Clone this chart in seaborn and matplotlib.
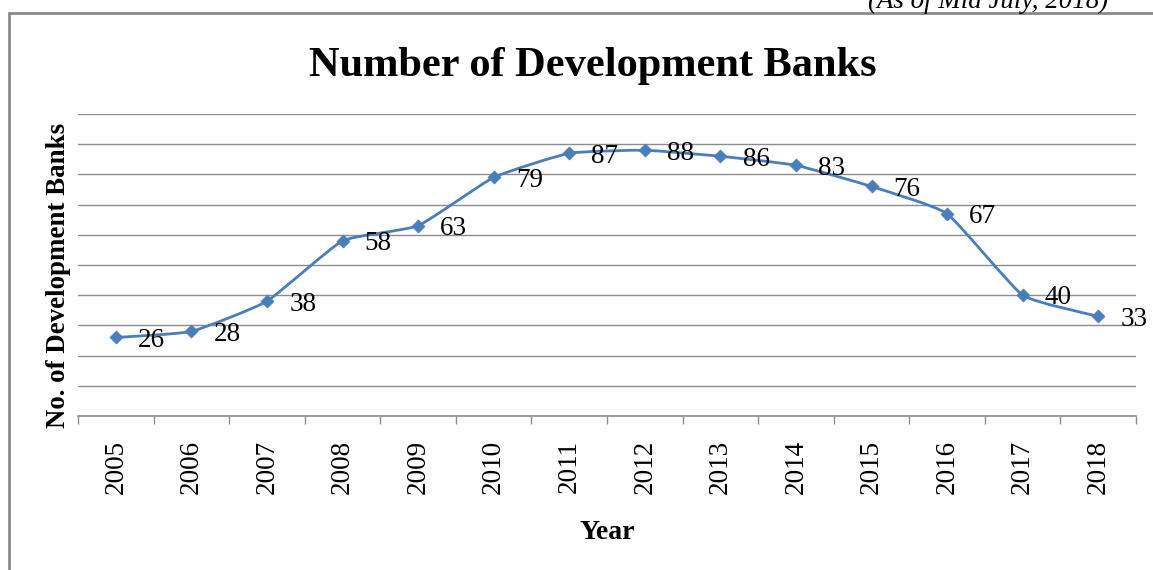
import numpy as np
import pandas as pd
import matplotlib
matplotlib.use("Agg")
import matplotlib.pyplot as plt
from matplotlib.path import Path
from matplotlib.patches import PathPatch
from matplotlib.lines import Line2D
import seaborn as sns

years = ["2005", "2006", "2007", "2008", "2009", "2010", "2011",
         "2012", "2013", "2014", "2015", "2016", "2017", "2018"]
banks = [26, 28, 38, 58, 63, 79, 87, 88, 86, 83, 76, 67, 40, 33]

title = "Number of Development Banks"
xlabel = "Year"
ylabel = "No. of Development Banks"
note = "(As of Mid July, 2018)"

LINE = "#4A7EBB"
GRID = "#8C8C8C"

sns.set_theme(style="white")
plt.rcParams["font.family"] = ["Liberation Serif", "DejaVu Serif"]
plt.rcParams["text.color"] = "black"
plt.rcParams["axes.labelcolor"] = "black"
plt.rcParams["xtick.color"] = "black"
plt.rcParams["ytick.color"] = "black"

W, H = 1153, 570
fig = plt.figure(figsize=(W / 100, H / 100), dpi=100)
ax = fig.add_axes([78 / W, 1 - 416 / H, (1136 - 78) / W, (416 - 114) / H])

df = pd.DataFrame({"pos": np.arange(len(years)), "year": years, "banks": banks})

# mildly smoothed line through the points (Bezier, like Excel's smoothed line)
pts = np.column_stack([df["pos"].values, df["banks"].values]).astype(float)
n = len(pts)
k = 1.0 / 14.0
verts = [pts[0]]
codes = [Path.MOVETO]
for i in range(n - 1):
    p0 = pts[i - 1] if i > 0 else pts[i]
    p1 = pts[i]
    p2 = pts[i + 1]
    p3 = pts[i + 2] if i + 2 < n else pts[i + 1]
    c1 = p1 + (p2 - p0) * k
    c2 = p2 - (p3 - p1) * k
    verts += [c1, c2, p2]
    codes += [Path.CURVE4] * 3
ax.add_patch(PathPatch(Path(verts, codes), facecolor="none", edgecolor=LINE,
                       lw=2.0, zorder=3))

sns.scatterplot(data=df, x="pos", y="banks", marker="D", s=44, color=LINE,
                edgecolor=LINE, linewidth=0.5, ax=ax, zorder=4, legend=False)

for x, y in zip(df["pos"], df["banks"]):
    ax.annotate(str(y), (x, y), xytext=(16, -2), textcoords="offset points",
                ha="left", va="center", fontsize=19.5, color="black", zorder=5)

ax.set_xlim(-0.5, len(years) - 0.5)
ax.set_ylim(0, 100)
ax.set_xticks(np.arange(len(years)))
ax.set_xticklabels(years, rotation=90, fontsize=19.5, color="black")
ax.set_xticks(np.arange(len(years) + 1) - 0.5, minor=True)
ax.tick_params(axis="x", which="major", length=0, pad=17)
ax.tick_params(axis="x", which="minor", length=6, width=1, color=GRID,
               direction="out", bottom=True)
ax.set_yticks(np.arange(0, 101, 10))
ax.set_yticklabels([])
ax.tick_params(axis="y", length=0)
ax.grid(axis="y", color=GRID, lw=1)
ax.grid(axis="x", visible=False)
for s in ["left", "right", "top"]:
    ax.spines[s].set_visible(False)
ax.spines["bottom"].set_color(GRID)
ax.spines["bottom"].set_linewidth(1.2)

ax.set_xlabel(xlabel, fontsize=20, fontweight="bold", color="black")
ax.xaxis.set_label_coords(0.5, -0.345)
ax.set_ylabel(ylabel, fontsize=19.4, fontweight="bold", color="black")
ax.yaxis.set_label_coords(-0.007, 0.467)

fig.text(593 / W, 1 - 76 / H, title, ha="center", va="baseline",
         fontsize=30.5, fontweight="bold", color="black")
fig.text(1108 / W, 1 - 8 / H, note, ha="right", va="baseline",
         fontsize=19.4, style="italic", color="black")

# outer chart frame (partially visible)
fig.add_artist(Line2D([9 / W, 9 / W], [0, 1 - 13 / H], color="#8A8A8A", lw=2,
                      transform=fig.transFigure))
fig.add_artist(Line2D([9 / W, 1], [1 - 13 / H, 1 - 13 / H], color="#8A8A8A", lw=2,
                      transform=fig.transFigure))

fig.savefig("out.png", dpi=100)
